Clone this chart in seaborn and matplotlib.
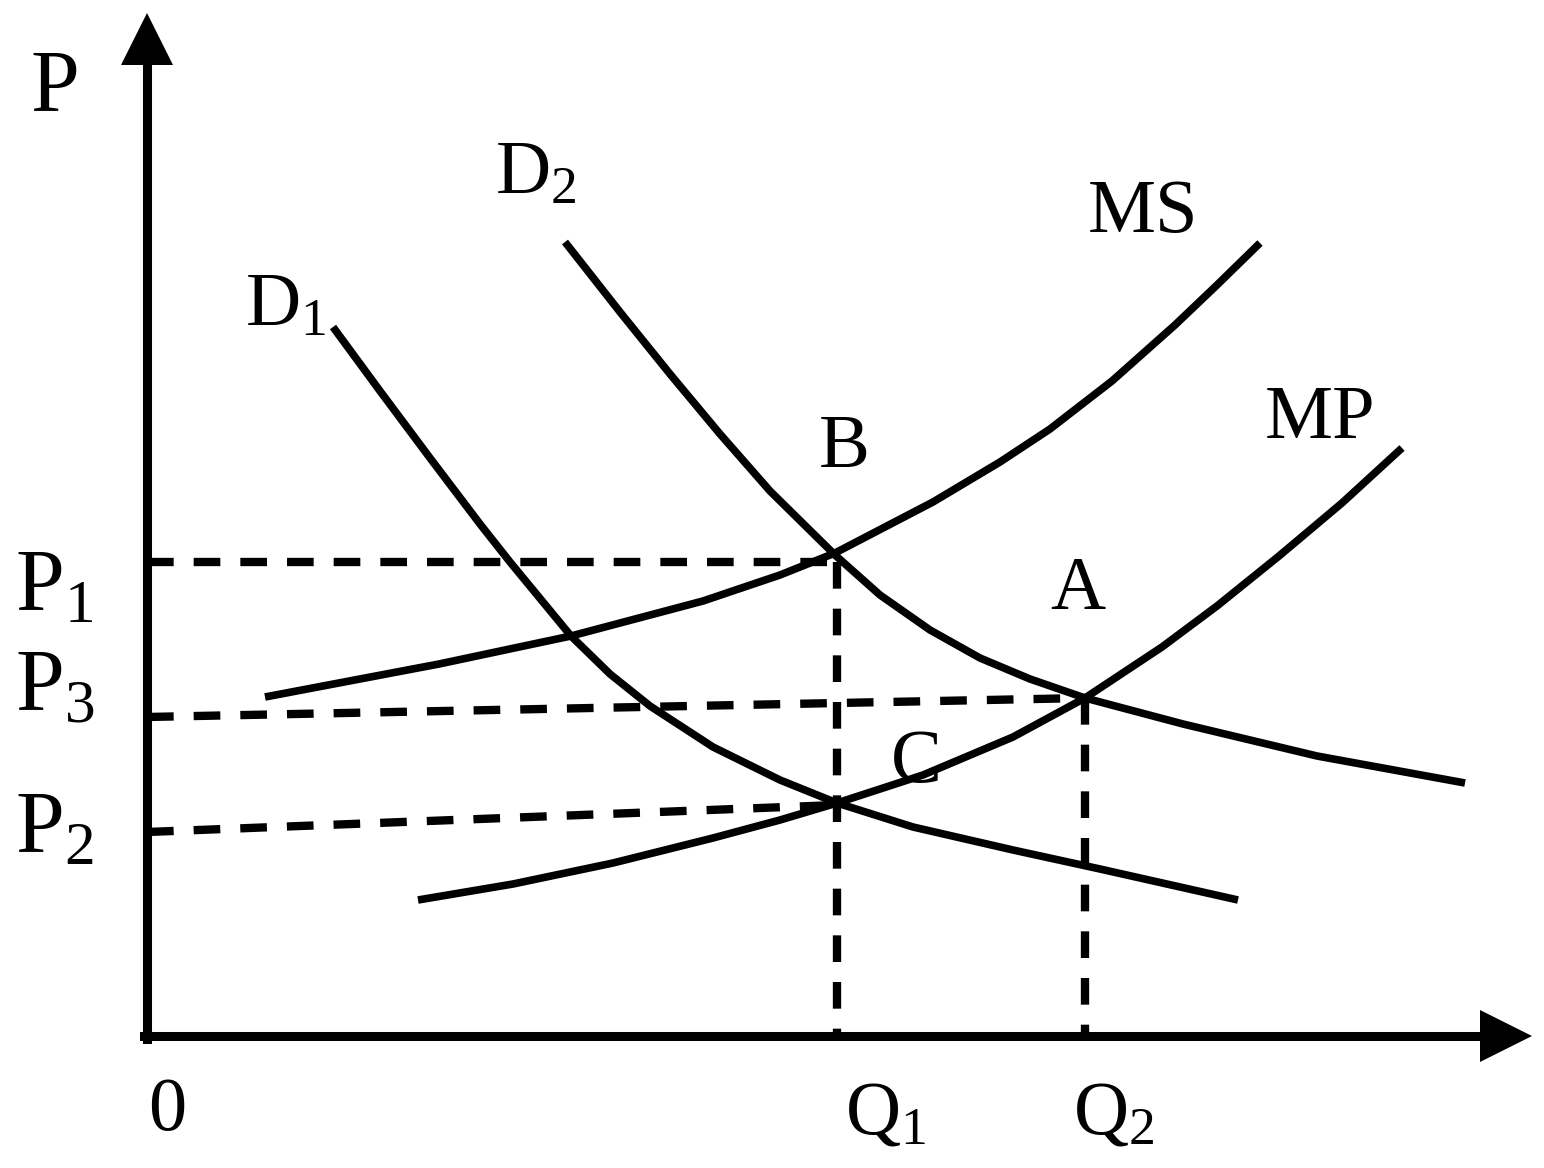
import numpy as np
import pandas as pd
import matplotlib
matplotlib.use("Agg")
import matplotlib.pyplot as plt
import seaborn as sns

# quantity (Q) / price (P) readings, origin at the corner of the two axes
d1_q = [186, 233, 283, 333, 363, 424, 463, 503, 566, 633, 690, 766, 866, 953, 1091]
d1_p = [709, 645, 578, 512, 474, 400, 362, 330, 289, 256, 233, 209, 186, 167, 136]

d2_q = [418, 473, 523, 573, 623, 688, 733, 783, 833, 883, 938, 1036, 1170, 1318]
d2_p = [794, 724, 662, 602, 545, 481, 441, 406, 378, 357, 338, 312, 280, 253]

ms_q = [118, 292, 424, 556, 633, 688, 786, 853, 903, 965, 1028, 1070, 1113]
ms_p = [339, 372, 400, 435, 461, 483, 534, 574, 607, 655, 711, 751, 793]

mp_q = [271, 366, 466, 566, 633, 690, 776, 866, 938, 1015, 1070, 1132, 1195, 1255]
mp_p = [136, 152, 173, 198, 216, 233, 261, 299, 338, 389, 430, 480, 533, 588]

# dashed guide lines
q1 = 690
q2 = 938
guide_q = [[0, q1], [q1, q1], [0, q2], [q2, q2], [0, q1]]
guide_p = [[474, 474], [474, 0], [319, 338], [338, 0], [204, 231]]

# labels
lab_text = [r"P", r"P$_1$", r"P$_3$", r"P$_2$", r"D$_1$", r"D$_2$", "MS", "MP",
            "B", "A", "C", r"Q$_1$", r"Q$_2$", "0"]
lab_q = [-117, -132, -132, -132, 98, 348, 941, 1118, 672, 903, 744, 698, 926, 1]
lab_p = [926, 426, 326, 183, 711, 843, 804, 598, 569, 427, 254, -97, -97, -94]
lab_size = [63, 63, 63, 63, 55, 55, 55, 55, 55, 55, 55, 55, 55, 55]

sns.set_theme(style="white")
plt.rcParams["font.family"] = ["Liberation Serif", "DejaVu Serif"]
plt.rcParams["mathtext.fontset"] = "custom"
plt.rcParams["mathtext.rm"] = "Liberation Serif"
plt.rcParams["mathtext.it"] = "Liberation Serif"
plt.rcParams["mathtext.default"] = "regular"

fig = plt.figure(figsize=(15.44, 11.68), dpi=100)
ax = fig.add_axes([147 / 1544, 132 / 1168, 1385 / 1544, 1022 / 1168])
ax.set_xlim(0, 1385)
ax.set_ylim(0, 1022)

curves = pd.DataFrame({
    "Q": d1_q + d2_q + ms_q + mp_q,
    "P": d1_p + d2_p + ms_p + mp_p,
    "curve": ["D1"] * len(d1_q) + ["D2"] * len(d2_q) + ["MS"] * len(ms_q) + ["MP"] * len(mp_q),
})
for name, grp in curves.groupby("curve"):
    sns.lineplot(data=grp, x="Q", y="P", sort=False, estimator=None,
                 color="black", lw=5.5, ax=ax, solid_capstyle="butt",
                 solid_joinstyle="round")

for gq, gp in zip(guide_q, guide_p):
    sns.lineplot(x=gq, y=gp, sort=False, estimator=None, color="black", lw=6,
                 linestyle=(0, (3.2, 2.4)), ax=ax)

# axes with arrow heads
for side in ["top", "right"]:
    ax.spines[side].set_visible(False)
for side in ["left", "bottom"]:
    ax.spines[side].set_linewidth(6.5)
    ax.spines[side].set_color("black")
ax.spines["left"].set_bounds(-3, 985)
ax.spines["bottom"].set_bounds(-3, 1350)
ax.plot(0, 997, marker="^", ms=37, color="black", mew=0, clip_on=False)
ax.plot(1359, 0, marker=">", ms=37, color="black", mew=0, clip_on=False)
ax.set_xticks([])
ax.set_yticks([])
ax.set(xlabel="", ylabel="")

for t, q, p, s in zip(lab_text, lab_q, lab_p, lab_size):
    ax.text(q, p, t, fontsize=s, ha="left", va="baseline", color="black", clip_on=False)

fig.savefig("out.png", dpi=100, facecolor="white")
